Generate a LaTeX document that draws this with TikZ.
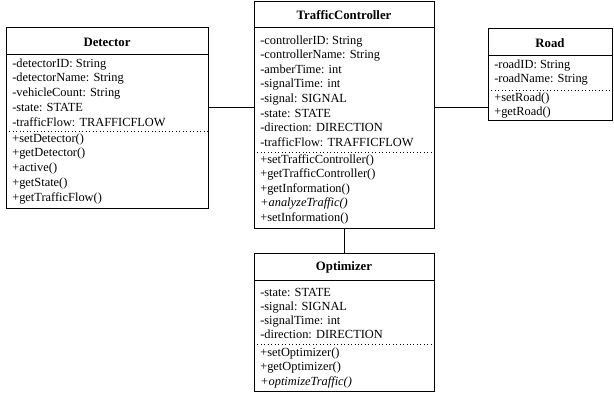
\documentclass[tikz,border=0pt]{standalone}
\usepackage{fontspec}
\setmainfont{Liberation Serif}
\begin{document}
\begin{tikzpicture}[x=0.75pt,y=-0.75pt,
  classbox/.style={draw=black,line width=0.75pt,inner sep=0pt,outer sep=0pt,anchor=north west},
  title/.style={font=\fontsize{9.6pt}{11pt}\selectfont\bfseries,inner sep=0pt,anchor=center},
  member/.style={font=\fontsize{9.3pt}{11pt}\selectfont,inner sep=0pt,anchor=west,text height=6.6pt,text depth=2pt},
  solidsep/.style={line width=0.75pt},
  dotsep/.style={line width=0.6pt,dotted},
  link/.style={line width=0.75pt}]
\useasboundingbox (0,0) rectangle (614,395);

% ---------- Detector ----------
\node[classbox,minimum width=151.5pt,minimum height=135.75pt] (det) at (6,28) {};
\node[title] (dett) at (107,42) {Detector};
\draw[solidsep] (6,55) -- (208,55);
\draw[dotsep] (6,131) -- (208,131);
\foreach \t [count=\i] in {{-detectorID: String},{-detectorName: String},{-vehicleCount: String},{-state: STATE},{-trafficFlow: TRAFFICFLOW}}
  \node[member,name=deta\i] at (12,{64+(\i-1)*14.8}) {\t};
\foreach \t [count=\i] in {{+setDetector()},{+getDetector()},{+active()},{+getState()},{+getTrafficFlow()}}
  \node[member,name=detm\i] at (12,{139+(\i-1)*14.8}) {\t};

% ---------- TrafficController ----------
\node[classbox,minimum width=135pt,minimum height=170.25pt] (tc) at (254,2) {};
\node[title] (tct) at (344,15.5) {TrafficController};
\draw[solidsep] (254,28) -- (434,28);
\draw[dotsep] (254,152) -- (434,152);
\foreach \t [count=\i] in {{-controllerID: String},{-controllerName: String},{-amberTime: int},{-signalTime: int},{-signal: SIGNAL},{-state: STATE},{-direction: DIRECTION},{-trafficFlow: TRAFFICFLOW}}
  \node[member,name=tca\i] at (260,{41+(\i-1)*14.6}) {\t};
\foreach \t [count=\i] in {{+setTrafficController()},{+getTrafficController()},{+getInformation()},{\itshape +analyzeTraffic()},{+setInformation()}}
  \node[member,name=tcm\i] at (260,{160+(\i-1)*14.6}) {\t};

% ---------- Road ----------
\node[classbox,minimum width=93pt,minimum height=69pt] (road) at (488,29) {};
\node[title] (roadt) at (550,43) {Road};
\draw[solidsep] (488,56) -- (612,56);
\draw[dotsep] (488,90) -- (612,90);
\foreach \t [count=\i] in {{-roadID: String},{-roadName: String}}
  \node[member,name=roada\i] at (494,{65+(\i-1)*14.5}) {\t};
\foreach \t [count=\i] in {{+setRoad()},{+getRoad()}}
  \node[member,name=roadm\i] at (494,{98+(\i-1)*14}) {\t};

% ---------- Optimizer ----------
\node[classbox,minimum width=135pt,minimum height=102.75pt] (opt) at (254,254) {};
\node[title] (optt) at (344,267.5) {Optimizer};
\draw[solidsep] (254,281) -- (434,281);
\draw[dotsep] (254,344) -- (434,344);
\foreach \t [count=\i] in {{-state: STATE},{-signal: SIGNAL},{-signalTime: int},{-direction: DIRECTION}}
  \node[member,name=opta\i] at (260,{293+(\i-1)*14.2}) {\t};
\foreach \t [count=\i] in {{+setOptimizer()},{+getOptimizer()},{\itshape +optimizeTraffic()}}
  \node[member,name=optm\i] at (260,{353+(\i-1)*14.5}) {\t};

% ---------- connectors ----------
\coordinate (lvl) at (0,108);
\draw[link] (det.east |- lvl) -- (tc.west |- lvl);
\draw[link] (tc.east |- lvl) -- (road.west |- lvl);
\draw[link] (tc.south) -- (opt.north);
\end{tikzpicture}
\end{document}
